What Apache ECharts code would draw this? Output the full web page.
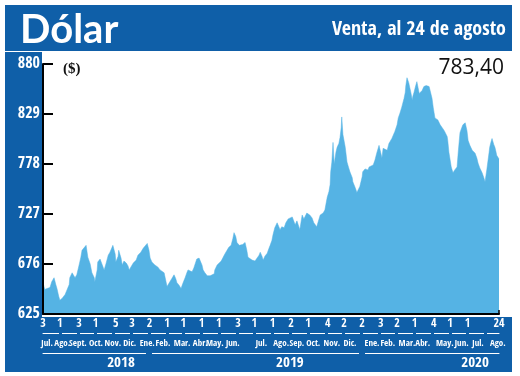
<!DOCTYPE html>
<html>
<head>
<meta charset="utf-8">
<script src="https://cdn.jsdelivr.net/npm/echarts@6/dist/echarts.min.js"></script>
<style>
  html, body { margin: 0; padding: 0; background: #ffffff; }
  #chart { width: 520px; height: 376px; }
</style>
</head>
<body>
<div id="chart"></div>
<script>
// Days elapsed since 2018-07-03 (first point of the series)
const dayOffsets = [
  0,3,7,12,15,19,22,24,27,29,33,34,38,41,45,46,50,52,55,58,62,65,67,70,74,77,81,84,88,89,93,94,98,101,105,108,112,115,120,124,125,129,130,134,136,139,143,146,148,151,155,160,163,168,172,175,179,182,184,187,192,197,201,204,208,209,213,216,218,221,225,228,230,234,237,240,244,247,249,252,256,259,261,264,268,270,273,275,278,282,287,290,294,295,299,300,306,309,312,316,319,323,326,328,331,333,337,340,343,347,350,352,355,359,364,367,371,373,376,378,381,385,388,390,393,395,398,402,405,407,410,414,417,421,424,428,429,433,436,441,445,448,453,458,462,465,470,472,476,481,484,488,489,491,493,494,496,498,500,503,505,508,510,512,513,515,519,522,525,527,531,532,536,539,541,544,548,549,553,555,558,560,563,567,570,573,577,579,582,584,587,591,594,596,599,604,608,610,613,616,620,622,623,625,627,628,632,634,635,637,640,642,644,646,649,651,654,658,659,663,664,668,670,673,675,678,682,685,689,690,694,695,697,701,704,707,711,713,716,719,721,725,726,728,730,733,737,740,742,745,747,750,754,757,759,762,766,767,769,771,774,776,778,779,781,783
];
// Dólar (venta), $ por US$
const values = [
  657,650,651,652,658,662,655,651,643,639,641,642,645,646,655,662,667,668,662,665,675,683,690,688,695,683,676,667,662,658,670,678,681,683,670,676,685,688,695,686,678,684,690,682,675,679,677,674,670,673,677,680,685,688,692,694,697,690,682,678,675,673,670,671,667,668,653,656,658,661,665,661,657,654,651,656,662,667,670,668,668,672,670,681,682,682,675,670,667,664,664,663,666,670,675,677,679,680,686,690,693,695,702,708,704,698,695,693,696,698,690,683,681,680,679,679,685,688,684,680,684,687,692,695,700,706,713,718,714,711,714,713,718,722,724,724,724,716,720,711,726,722,728,726,723,718,714,718,726,728,731,744,746,750,757,770,780,800,778,790,795,799,805,815,826,808,795,780,774,770,764,760,754,749,748,755,765,770,773,774,772,775,776,777,782,789,797,792,784,794,795,792,799,800,804,811,818,825,830,836,845,851,858,866,864,861,850,843,847,851,858,862,856,850,852,853,857,858,858,857,857,845,836,825,826,823,818,816,812,811,806,802,790,775,769,772,775,790,810,815,818,820,820,812,802,797,792,790,789,784,779,774,769,764,760,772,790,795,800,804,798,795,790,787,786,783
];

const yTicks = [625, 676, 727, 778, 829, 880];

// first trading day of each month shown on the axis
const dayTicks  = [0,29,62,90,125,153,183,213,241,272,302,335,363,394,426,455,489,517,548,580,608,638,671,699,729,783];
const dayLabels = ['3','1','3','1','5','3','2','1','1','1','1','3','1','1','2','1','4','2','2','3','2','1','4','1','1','24'];

// month names (row under the day numbers)
const monthPos    = [7,33,60,91,120,149,179,206,239,270,295,326,375,409,436,464,496,527,565,592,625,652,690,719,747,781];
const monthLabels = ['Jul.','Ago.','Sept.','Oct.','Nov.','Dic.','Ene.','Feb.','Mar.','Abr.','May.','Jun.','Jul.','Ago.','Sep.','Oct.','Nov.','Dic.','Ene.','Feb.','Mar.','Abr.','May.','Jun.','Jul.','Ago.'];
const monthStarts = [29,60,90,121,151,182,213,241,272,302,333,363,394,425,455,486,516,547,578,607,638,668,699,729,760];

const yearPos    = [134, 424, 742];
const yearLabels = ['2018', '2019', '2020'];
const yearStarts = [182, 547];

const BLUE = '#0f5fa8';
const AREA = '#55b3e4';
const NARROW = '"Liberation Sans Narrow", "Noto Sans ExtraCondensed", "Noto Sans Condensed", "Open Sans Condensed", "DejaVu Sans Condensed", Roboto, sans-serif';

const seriesData = dayOffsets.map((d, i) => [d, values[i]]);
const lookup = (pos, lab) => v => { const i = pos.indexOf(Math.round(v)); return i >= 0 ? lab[i] : ''; };

const chart = echarts.init(document.getElementById('chart'), null, { renderer: 'canvas' });
chart.setOption({
  animation: false,
  backgroundColor: '#ffffff',
  graphic: [
    { type: 'rect', z: -10, shape: { x: 5, y: 5, width: 507, height: 46 }, style: { fill: BLUE } },
    { type: 'rect', z: -10, shape: { x: 5, y: 52, width: 37, height: 266 }, style: { fill: BLUE } },
    { type: 'rect', z: -10, shape: { x: 5, y: 317, width: 507, height: 55 }, style: { fill: BLUE } }
  ],
  title: [
    { text: 'Dólar', left: 15, top: 5, textStyle: { color: '#fff', fontSize: 40, fontWeight: 'bold', fontFamily: 'Lato, "Open Sans", sans-serif' } },
    { text: 'Venta, al 24 de agosto', right: 9, top: 15, textStyle: { color: '#fff', fontSize: 20, fontWeight: 'normal', fontFamily: NARROW } },
    { text: '783,40', right: 11, top: 53, textStyle: { color: '#111', fontSize: 21, fontWeight: 'normal', fontFamily: '"Open Sans", sans-serif' } },
    { text: '($)', left: 58, top: 57, textStyle: { color: '#111', fontSize: 15, fontWeight: 'bold', fontFamily: '"Liberation Serif", serif' } }
  ],
  grid: { left: 43, right: 21, top: 64, bottom: 62, containLabel: false },
  xAxis: [
    {
      type: 'value', min: 0, max: 783, z: 5,
      axisLine: { show: true, lineStyle: { color: '#000', width: 2 } },
      axisTick: { show: true, customValues: [783], inside: true, length: 4, lineStyle: { color: '#000', width: 1.5 } },
      axisLabel: { show: false }, splitLine: { show: false }
    },
    {
      type: 'value', min: 0, max: 783, position: 'bottom', offset: 0,
      axisLine: { show: false }, axisTick: { show: false }, splitLine: { show: false },
      axisLabel: { customValues: dayTicks, formatter: lookup(dayTicks, dayLabels), showMinLabel: true, showMaxLabel: true, hideOverlap: false,
                   color: '#fff', fontSize: 12, fontFamily: NARROW, margin: 4 }
    },
    {
      type: 'value', min: 0, max: 783, position: 'bottom', offset: 19,
      axisLine: { show: true, lineStyle: { color: '#fff', width: 1 } },
      axisTick: { show: true, customValues: monthStarts, inside: false, length: 2, lineStyle: { color: BLUE, width: 3 } },
      splitLine: { show: false },
      axisLabel: { customValues: monthPos, formatter: lookup(monthPos, monthLabels), showMinLabel: true, showMaxLabel: true, hideOverlap: false,
                   color: '#fff', fontSize: 9, fontFamily: NARROW, margin: 6 }
    },
    {
      type: 'value', min: 0, max: 783, position: 'bottom', offset: 39,
      axisLine: { show: true, lineStyle: { color: '#fff', width: 1 } },
      axisTick: { show: true, customValues: yearStarts, inside: false, length: 2, lineStyle: { color: BLUE, width: 6 } },
      splitLine: { show: false },
      axisLabel: { customValues: yearPos, formatter: lookup(yearPos, yearLabels), showMinLabel: true, showMaxLabel: true,
                   color: '#fff', fontSize: 15, fontFamily: NARROW, margin: 3 }
    }
  ],
  yAxis: {
    type: 'value', min: 625, max: 880, z: 5,
    axisLine: { show: true, lineStyle: { color: '#000', width: 2 } },
    axisTick: { show: true, customValues: yTicks, inside: true, length: 10, lineStyle: { color: '#000', width: 2 } },
    axisLabel: { customValues: yTicks, showMinLabel: true, showMaxLabel: true, color: '#fff', fontSize: 16, fontFamily: NARROW, margin: 3 },
    splitLine: { show: false }
  },
  series: [{
    type: 'line', xAxisIndex: 0, yAxisIndex: 0,
    data: seriesData, showSymbol: false, smooth: false,
    lineStyle: { width: 0.5, color: AREA },
    areaStyle: { color: AREA, opacity: 1, origin: 'start' }
  }]
});
</script>
</body>
</html>
